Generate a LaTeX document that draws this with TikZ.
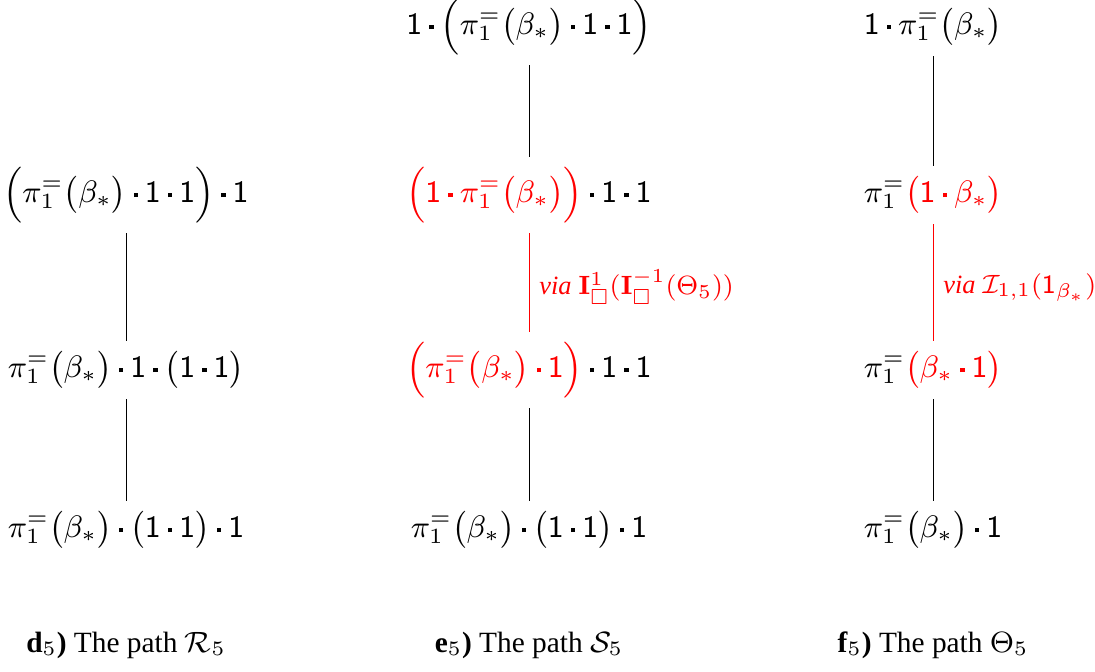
\RequirePackage{fix-cm}
\documentclass[tikz,border=0pt]{standalone}
\usepackage{amsmath,amssymb}
\usepackage[no-math]{fontspec}
\setmainfont{Liberation Serif}
\newcommand{\sq}{\mathbin{\vcenter{\hbox{\rule{1.3pt}{1.3pt}}}}}
\newcommand{\one}{\mathsf{1}}
\newcommand{\pb}{\pi_1^{=}\bigl(\beta_*\bigr)}
\tikzset{
  term/.style={inner sep=3pt, font=\fontsize{9.4}{11}\selectfont},
  conn/.style={draw=black, line width=0.3pt},
  redconn/.style={draw=red, line width=0.3pt},
  vialabel/.style={right, text=red, inner sep=3pt, font=\fontsize{8}{9.5}\selectfont},
  caption/.style={inner sep=0pt, font=\fontsize{8.9}{10}\selectfont}
}
\begin{document}
\begin{tikzpicture}[x=0.30303pt,y=-0.30303pt]
\useasboundingbox (0,0) rectangle (1095,672);
% column d
\node[term] (d1) at (126,195) {$\Bigl(\pb\sq\one\sq\one\Bigr)\sq\one$};
\node[term] (d2) at (126,370) {$\pb\sq\one\sq\bigl(\one\sq\one\bigr)$};
\node[term] (d3) at (126,530) {$\pb\sq\bigl(\one\sq\one\bigr)\sq\one$};
\draw[conn] (d1) -- (d2);
\draw[conn] (d2) -- (d3);
% column e
\node[term] (e1) at (529,27) {$\one\sq\Bigl(\pb\sq\one\sq\one\Bigr)$};
\node[term] (e2) at (529,195) {$\textcolor{red}{\Bigl(\one\sq\pb\Bigr)}\sq\one\sq\one$};
\node[term] (e3) at (529,370) {$\textcolor{red}{\Bigl(\pb\sq\one\Bigr)}\sq\one\sq\one$};
\node[term] (e4) at (529,530) {$\pb\sq\bigl(\one\sq\one\bigr)\sq\one$};
\draw[conn] (e1) -- (e2);
\draw[redconn] (e2) -- node[vialabel, yshift=-1.5pt] {\textit{via} $\mathbf{I}^1_\square(\mathbf{I}^{-1}_\square(\Theta_5))$} (e3);
\draw[conn] (e3) -- (e4);
% column f
\node[term] (f1) at (933,27) {$\one\sq\pb$};
\node[term] (f2) at (933,195) {$\pi_1^{=}\textcolor{red}{\bigl(\one\sq\beta_*\bigr)}$};
\node[term] (f3) at (933,370) {$\pi_1^{=}\textcolor{red}{\bigl(\beta_*\sq\one\bigr)}$};
\node[term] (f4) at (933,530) {$\pb\sq\one$};
\draw[conn] (f1) -- (f2);
\draw[redconn] (f2) -- node[vialabel, yshift=-1.5pt] {\textit{via} $\mathcal{I}_{1,1}(\one_{\beta_*})$} (f3);
\draw[conn] (f3) -- (f4);
% captions
\node[caption] (cd) at (126,645) {\textbf{d}$_5$\textbf{)} The path $\mathcal{R}_5$};
\node[caption] (ce) at (529,645) {\textbf{e}$_5$\textbf{)} The path $\mathcal{S}_5$};
\node[caption] (cf) at (933,645) {\textbf{f}$_5$\textbf{)} The path $\Theta_5$};
\end{tikzpicture}
\end{document}
